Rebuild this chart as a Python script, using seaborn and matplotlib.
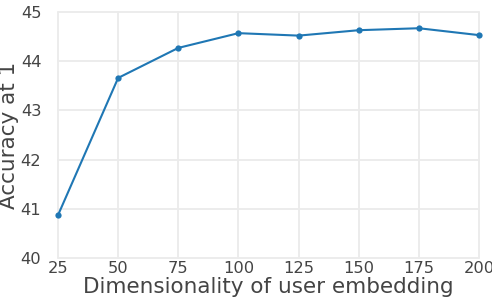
import matplotlib
matplotlib.use("Agg")
import matplotlib.pyplot as plt
import seaborn as sns
import pandas as pd

dims = [25, 50, 75, 100, 125, 150, 175, 200]
acc = [40.87, 43.66, 44.27, 44.57, 44.52, 44.63, 44.67, 44.53]
xticks = [25, 50, 75, 100, 125, 150, 175, 200]
yticks = [40, 41, 42, 43, 44, 45]

sns.set_theme(style="white")
plt.rcParams['font.family'] = ['DejaVu Sans']

df = pd.DataFrame({"dim": dims, "acc": acc})
fig = plt.figure(figsize=(4.92, 3.07), dpi=100)
ax = fig.add_axes([58/492, 49/307, (479-58)/492, (258-12)/307])
for t in xticks:
    ax.axvline(t, color="#ebebeb", lw=1.3, zorder=0)
for t in yticks:
    ax.axhline(t, color="#ebebeb", lw=1.3, zorder=0)
sns.lineplot(data=df, x="dim", y="acc", ax=ax, color="#1f77b4", lw=1.5,
             marker="o", markersize=4.5, markeredgewidth=0, zorder=3)
ax.set_xlim(25, 200)
ax.set_ylim(40, 45)
ax.set_xticks(xticks)
ax.set_yticks(yticks)
for s in ax.spines.values():
    s.set_visible(False)
ax.tick_params(axis="both", length=0, labelsize=11.7, labelcolor="#444444")
ax.tick_params(axis="x", pad=2)
ax.tick_params(axis="y", pad=12)
ax.set_xlabel("Dimensionality of user embedding", fontsize=15.5, color="#444444", labelpad=1)
ax.set_ylabel("Accuracy at 1", fontsize=15.5, color="#444444", labelpad=1)
for l in ax.lines:
    l.set_clip_on(False)
fig.savefig("out.png", dpi=100)
